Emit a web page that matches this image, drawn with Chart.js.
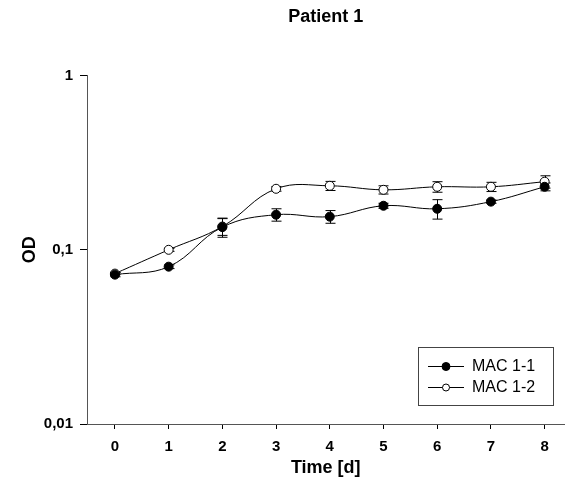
<!DOCTYPE html>
<html>
<head>
<meta charset="utf-8">
<script src="https://cdn.jsdelivr.net/npm/chart.js@4"></script>
<style>
  html, body { margin: 0; padding: 0; background: #fff; }
  #wrap { width: 570px; height: 496px; }
</style>
</head>
<body>
<div id="wrap"><canvas id="odChart" width="570" height="496"></canvas></div>
<script>
const days = [0, 1, 2, 3, 4, 5, 6, 7, 8];
const mac11 = [0.072, 0.080, 0.135, 0.159, 0.155, 0.179, 0.172, 0.189, 0.230];
const mac12 = [0.073, 0.100, 0.136, 0.224, 0.233, 0.221, 0.230, 0.230, 0.246];
const mac11Err = [0.002, 0.002, 0.017, 0.013, 0.013, 0.006, 0.022, 0.004, 0.012];
const mac12Err = [0.001, 0.002, 0.015, 0.007, 0.014, 0.012, 0.016, 0.014, 0.020];
const yTicks = [0.01, 0.1, 1];
const seriesNames = ["MAC 1-1", "MAC 1-2"];

const FONT = "'Liberation Sans', Arial, sans-serif";

function toPoints(vals) {
    return days.map((d, i) => ({ x: d, y: vals[i] }));
}

// vertical error bars with caps, drawn under the markers
const errorBars = {
    id: "errorBars",
    beforeDatasetsDraw(chart) {
        const ctx = chart.ctx;
        const x = chart.scales.x, y = chart.scales.y;
        ctx.save();
        ctx.strokeStyle = "#000";
        ctx.lineWidth = 1;
        chart.data.datasets.forEach(ds => {
            ds.data.forEach((p, i) => {
                const e = ds.errors[i];
                const px = Math.round(x.getPixelForValue(p.x)) + 0.5;
                const top = y.getPixelForValue(p.y + e);
                const bot = y.getPixelForValue(p.y - e);
                ctx.beginPath();
                ctx.moveTo(px, top); ctx.lineTo(px, bot);
                ctx.moveTo(px - 5, top); ctx.lineTo(px + 5, top);
                ctx.moveTo(px - 5, bot); ctx.lineTo(px + 5, bot);
                ctx.stroke();
            });
        });
        ctx.restore();
    }
};

// boxed legend in the lower right of the plot
const boxLegend = {
    id: "boxLegend",
    afterDraw(chart) {
        const ctx = chart.ctx;
        const bx = 418.5, by = 347.5, bw = 135, bh = 58;
        ctx.save();
        ctx.strokeStyle = "#444";
        ctx.lineWidth = 1;
        ctx.strokeRect(bx, by, bw, bh);
        ctx.font = "16px " + FONT;
        ctx.textBaseline = "middle";
        chart.data.datasets.forEach((ds, i) => {
            const ly = 366 + i * 21;
            ctx.strokeStyle = "#000";
            ctx.beginPath();
            ctx.moveTo(428, ly + 0.5); ctx.lineTo(464, ly + 0.5);
            ctx.stroke();
            ctx.beginPath();
            ctx.arc(446, ly + 0.5, i === 0 ? 4 : 3.5, 0, Math.PI * 2);
            ctx.fillStyle = ds.pointBackgroundColor;
            ctx.fill();
            ctx.stroke();
            ctx.fillStyle = "#000";
            ctx.fillText(ds.label, 472, ly + 1);
        });
        ctx.restore();
    }
};

new Chart(document.getElementById("odChart"), {
    type: "line",
    data: {
        datasets: [
            {
                label: seriesNames[0],
                data: toPoints(mac11),
                errors: mac11Err,
                borderColor: "#000",
                borderWidth: 1,
                tension: 0.4,
                pointRadius: 4.5,
                pointBackgroundColor: "#000",
                pointBorderColor: "#000",
                pointBorderWidth: 1
            },
            {
                label: seriesNames[1],
                data: toPoints(mac12),
                errors: mac12Err,
                borderColor: "#000",
                borderWidth: 1,
                tension: 0.4,
                pointRadius: 4.5,
                pointBackgroundColor: "#fff",
                pointBorderColor: "#000",
                pointBorderWidth: 1
            }
        ]
    },
    options: {
        responsive: false,
        animation: false,
        layout: { padding: { left: 0, right: 3, top: 0, bottom: 0 } },
        plugins: {
            legend: { display: false },
            tooltip: { enabled: false },
            title: {
                display: true,
                text: "Patient 1",
                fullSize: false,
                color: "#000",
                font: { family: FONT, size: 18, weight: "bold" },
                padding: { top: 6, bottom: 48 }
            }
        },
        scales: {
            x: {
                type: "linear",
                min: -0.52,
                max: 8.37,
                afterBuildTicks: axis => { axis.ticks = days.map(v => ({ value: v })); },
                afterFit: axis => { axis.height = 72; },
                grid: { drawOnChartArea: false, drawTicks: true, tickLength: 5, color: "#000" },
                border: { color: "#555", width: 1 },
                ticks: {
                    color: "#000",
                    padding: 9,
                    font: { family: FONT, size: 15, weight: "bold" }
                },
                title: {
                    display: true,
                    text: "Time [d]",
                    color: "#000",
                    font: { family: FONT, size: 18, weight: "bold" },
                    padding: { top: 0, bottom: 17 }
                }
            },
            y: {
                type: "logarithmic",
                min: 0.01,
                max: 1,
                afterBuildTicks: axis => { axis.ticks = yTicks.map(v => ({ value: v })); },
                afterFit: axis => { axis.width = 87; },
                grid: { drawOnChartArea: false, drawTicks: true, tickLength: 7, color: "#000" },
                border: { color: "#555", width: 1 },
                ticks: {
                    color: "#000",
                    padding: 7,
                    font: { family: FONT, size: 15, weight: "bold" },
                    callback: v => String(v).replace(".", ",")
                },
                title: {
                    display: true,
                    text: "OD",
                    color: "#000",
                    font: { family: FONT, size: 18, weight: "bold" },
                    padding: { top: 19, bottom: 0 }
                }
            }
        }
    },
    plugins: [errorBars, boxLegend]
});
</script>
</body>
</html>
